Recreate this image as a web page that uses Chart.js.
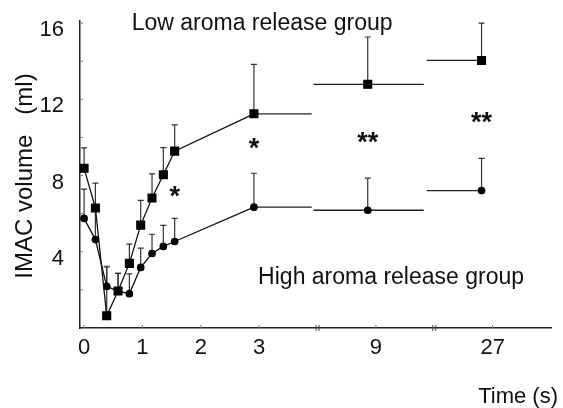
<!DOCTYPE html>
<html>
<head>
<meta charset="utf-8">
<script src="https://cdn.jsdelivr.net/npm/chart.js@4.4.0/dist/chart.umd.min.js"></script>
<style>
  html, body { margin: 0; padding: 0; background: #fff; }
  #wrap { width: 563px; height: 408px; }
</style>
</head>
<body>
<div id="wrap"><canvas id="myChart" width="563" height="408"></canvas></div>
<script>
// time points (s) and group means / upper error limits (ml)
const times = [0, 0.2, 0.4, 0.6, 0.8, 1.0, 1.2, 1.4, 1.6, 3, 9, 27];
const lowMean = [8.38, 6.30, 0.64, 1.94, 3.39, 5.40, 6.82, 8.04, 9.28, 11.24, 12.79, 14.04];
const lowUpper = [9.45, 7.60, 3.20, 2.87, 4.40, 6.70, 8.09, 9.47, 10.66, 13.83, 15.27, 16.00];
const highMean = [5.75, 4.64, 2.18, 1.94, 1.80, 3.18, 3.91, 4.28, 4.54, 6.34, 6.18, 7.21];
const highUpper = [7.29, 6.20, 3.24, 2.87, 2.84, 4.19, 4.92, 5.39, 5.75, 8.12, 7.86, 8.90];

const xTickLabels = ["0", "1", "2", "3", "9", "27"];
const yTickLabels = ["4", "8", "12", "16"];

// significance marks (time, height)
const starTimes = [1.6, 3, 9, 27];
const starLevels = [7.04, 9.58, 9.87, 10.96];
const starTexts = ["*", "*", "**", "**"];

// broken time axis: 0-3 linear, then 9 and 27 each get their own section
const xTickPos = [0, 1, 2, 3, 5, 7];
const axisBreaks = [4, 6];
function axisPos(t) {
  if (t <= 3) return t * 0.97;
  if (t === 9) return 4.86;
  return 6.81;
}
// horizontal plateau span of the last three points
function plateau(t) {
  if (t === 3) return [axisPos(3), 3.9];
  if (t === 9) return [3.93, 5.82];
  return [5.87, axisPos(27)];
}

const lowPts = times.map((t, i) => ({ x: axisPos(t), y: lowMean[i] }));
const highPts = times.map((t, i) => ({ x: axisPos(t), y: highMean[i] }));

const FONT = "'Liberation Sans', Arial, sans-serif";
// only the 0-3 s points are joined
const joined = (ctx) => ctx.p1DataIndex > 9 ? "rgba(0,0,0,0)" : undefined;

const extras = {
  id: "extras",
  beforeDatasetsDraw(chart) {
    const { ctx } = chart;
    const xs = chart.scales.x, ys = chart.scales.y;
    const bottom = ys.getPixelForValue(0);
    ctx.save();
    // inward tick marks
    ctx.strokeStyle = "#777";
    ctx.lineWidth = 1;
    for (let v = 2; v <= 16; v += 2) {
      const py = ys.getPixelForValue(v);
      ctx.beginPath(); ctx.moveTo(xs.left, py); ctx.lineTo(xs.left + 3, py); ctx.stroke();
    }
    xTickPos.forEach((v) => {
      const px = xs.getPixelForValue(v);
      ctx.beginPath(); ctx.moveTo(px, bottom); ctx.lineTo(px, bottom - 3); ctx.stroke();
    });
    // axis breaks
    ctx.strokeStyle = "#444";
    axisBreaks.forEach((v) => {
      const px = xs.getPixelForValue(v);
      [-1.5, 1.5].forEach((d) => {
        ctx.beginPath(); ctx.moveTo(px + d, bottom - 3); ctx.lineTo(px + d, bottom + 3); ctx.stroke();
      });
    });
    // plateau lines
    ctx.strokeStyle = "#222";
    ctx.lineWidth = 1.3;
    [lowMean, highMean].forEach((arr) => {
      times.forEach((t, i) => {
        if (t < 3) return;
        const [a, b] = plateau(t);
        const py = ys.getPixelForValue(arr[i]);
        ctx.beginPath(); ctx.moveTo(xs.getPixelForValue(a), py); ctx.lineTo(xs.getPixelForValue(b), py); ctx.stroke();
      });
    });
    // error bars (upper only)
    ctx.strokeStyle = "#333";
    ctx.lineWidth = 1.2;
    [[lowMean, lowUpper], [highMean, highUpper]].forEach(([m, u]) => {
      times.forEach((t, i) => {
        const px = xs.getPixelForValue(axisPos(t));
        const p0 = ys.getPixelForValue(m[i]);
        const p1 = ys.getPixelForValue(u[i]);
        ctx.beginPath();
        ctx.moveTo(px, p0); ctx.lineTo(px, p1);
        ctx.moveTo(px - 3, p1); ctx.lineTo(px + 3, p1);
        ctx.stroke();
      });
    });
    ctx.restore();
  },
  afterDraw(chart) {
    const { ctx } = chart;
    const xs = chart.scales.x, ys = chart.scales.y;
    ctx.save();
    ctx.fillStyle = "#111";
    ctx.textAlign = "center";
    ctx.textBaseline = "middle";
    ctx.font = "23px " + FONT;
    ctx.fillText("Low aroma release group", xs.getPixelForValue(3.05), ys.getPixelForValue(15.95));
    ctx.fillText("High aroma release group", xs.getPixelForValue(5.26), ys.getPixelForValue(2.65));
    ctx.font = "bold 27px " + FONT;
    starTimes.forEach((t, i) => {
      ctx.fillText(starTexts[i], xs.getPixelForValue(axisPos(t)), ys.getPixelForValue(starLevels[i]) + 4);
    });
    ctx.font = "22px " + FONT;
    ctx.textAlign = "right";
    ctx.fillText("Time (s)", 558, 397);
    ctx.translate(25, 176);
    ctx.rotate(-Math.PI / 2);
    ctx.textAlign = "center";
    ctx.font = "24px " + FONT;
    ctx.fillText("IMAC volume   (ml)", 0, 0);
    ctx.restore();
  }
};

const config = {
  type: "scatter",
  data: {
    datasets: [
      {
        data: lowPts,
        showLine: true,
        borderColor: "#111",
        borderWidth: 1.3,
        pointStyle: "rect",
        pointRadius: 5.5,
        pointBackgroundColor: "#000",
        pointBorderColor: "#000",
        segment: { borderColor: joined }
      },
      {
        data: highPts,
        showLine: true,
        borderColor: "#111",
        borderWidth: 1.3,
        pointStyle: "circle",
        pointRadius: 3.2,
        pointBackgroundColor: "#000",
        pointBorderColor: "#000",
        segment: { borderColor: joined }
      }
    ]
  },
  options: {
    responsive: false,
    animation: false,
    layout: { padding: { top: 18, right: 12, left: 0, bottom: 0 } },
    plugins: { legend: { display: false }, tooltip: { enabled: false } },
    scales: {
      x: {
        type: "linear",
        min: -0.07,
        max: 8,
        afterFit: (s) => { s.height = 80; },
        afterBuildTicks: (s) => { s.ticks = xTickPos.map((v) => ({ value: v })); },
        grid: { display: false },
        border: { display: true, color: "#222", width: 1.5 },
        ticks: {
          padding: -1,
          color: "#111",
          font: { size: 22, family: FONT },
          callback: (v) => xTickLabels[xTickPos.indexOf(v)]
        }
      },
      y: {
        min: 0,
        max: 16.1,
        afterFit: (s) => { s.width = 80; },
        afterBuildTicks: (s) => { s.ticks = yTickLabels.map((v) => ({ value: Number(v) })); },
        grid: { display: false },
        border: { display: true, color: "#222", width: 1.5 },
        ticks: {
          padding: 8,
          labelOffset: 7,
          color: "#111",
          font: { size: 22, family: FONT },
          callback: (v) => String(v)
        }
      }
    }
  },
  plugins: [extras]
};

const myChart = new Chart(document.getElementById("myChart"), config);
</script>
</body>
</html>
